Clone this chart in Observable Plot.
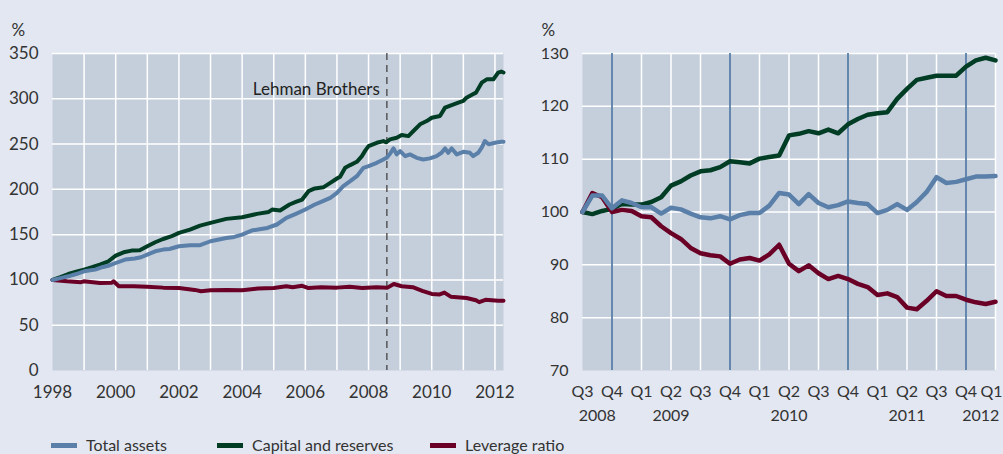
<!DOCTYPE html>
<html>
<head>
<meta charset="utf-8">
<script src="https://cdn.jsdelivr.net/npm/d3@7"></script>
<script src="https://cdn.jsdelivr.net/npm/@observablehq/plot@0.6"></script>
<style>
  html, body { margin: 0; padding: 0; background: #e2e7f1; }
  #wrap { position: relative; width: 1003px; height: 454px; overflow: hidden; font-family: Lato, "Open Sans", sans-serif; color: #333; }
  #left { position: absolute; left: 0; top: 0; }
  #right { position: absolute; left: 503px; top: 0; }
  .leg { position: absolute; top: 435px; display: flex; align-items: center; font-size: 16px; line-height: 20px; color: #333; }
  .sw { width: 26px; height: 5px; margin-right: 9px; }
</style>
</head>
<body>
<div id="wrap">
  <div id="left"></div>
  <div id="right"></div>
  <div id="legend"></div>
</div>
<script>
// ---------- Data ----------
const seriesNames = ["Total assets", "Capital and reserves", "Leverage ratio"];
const seriesColors = ["#5a7fa8", "#003d24", "#6a0026"];

// Left panel (index, 1998 = 100): [year, value]
const totalAssetsLong = [
  [1998.0,100],[1998.25,102],[1998.5,104],[1998.75,106.5],[1999.0,109.5],[1999.35,111.4],[1999.6,114.3],[1999.8,116],
  [2000.0,118.7],[2000.3,122.5],[2000.6,123.6],[2000.8,125],[2001.0,128],[2001.25,131.6],[2001.5,133.5],[2001.7,134.2],
  [2002.0,137.2],[2002.35,138.3],[2002.67,138.3],[2003.0,142.7],[2003.5,146.3],[2003.75,147.5],[2004.0,150.1],[2004.3,154.5],
  [2004.55,156],[2004.8,157.4],[2005.1,161.2],[2005.4,168.5],[2005.7,172.9],[2006.0,177.7],[2006.3,183.3],[2006.5,186.2],
  [2006.79,190.6],[2007.0,196],[2007.2,203.5],[2007.42,209],[2007.63,214.6],[2007.84,223.8],[2008.0,225.7],[2008.26,229.3],
  [2008.47,233],[2008.57,234.8],[2008.68,239.3],[2008.79,245.2],[2008.89,238.6],[2009.0,242.3],[2009.16,236.7],[2009.31,238.6],
  [2009.52,234.8],[2009.73,233],[2009.94,234.2],[2010.15,236.7],[2010.31,240.4],[2010.42,245.2],[2010.52,240.4],[2010.63,245.2],
  [2010.79,238.6],[2011.0,241.5],[2011.21,240.4],[2011.31,236.7],[2011.47,240.4],[2011.58,246],[2011.68,253.3],[2011.8,249.7],
  [2012.0,251.4],[2012.2,252.5],[2012.27,252.5]
];
const capitalLong = [
  [1998.0,100],[1998.25,103],[1998.5,106.5],[1998.75,109],[1999.0,111.4],[1999.25,114],[1999.5,116.9],[1999.77,120.6],
  [2000.0,126.8],[2000.25,130.5],[2000.5,132.4],[2000.76,132.7],[2001.0,137.2],[2001.25,141.6],[2001.5,145.2],[2001.75,148],
  [2002.0,151.9],[2002.35,155.6],[2002.67,160],[2003.0,163],[2003.5,167.4],[2004.0,169.2],[2004.47,172.9],[2004.84,175.1],
  [2004.95,177.7],[2005.2,176.7],[2005.5,183.3],[2005.7,186.2],[2005.9,188.8],[2006.1,198],[2006.3,201],[2006.58,202.4],
  [2006.79,207.2],[2007.0,212],[2007.1,214],[2007.26,223.8],[2007.42,226.8],[2007.63,230.4],[2007.79,236.7],[2007.9,243],
  [2008.0,247.8],[2008.26,251.4],[2008.47,253.3],[2008.55,252],[2008.68,255.2],[2008.89,257],[2009.05,260],[2009.26,258.8],
  [2009.42,264.4],[2009.63,271.8],[2009.84,275.4],[2010.0,279.1],[2010.26,281],[2010.42,290.2],[2010.63,293.1],[2010.84,295.7],
  [2011.0,297.6],[2011.1,301.2],[2011.3,305],[2011.4,306.8],[2011.58,317.8],[2011.74,321.5],[2011.95,321.5],[2012.1,328.9],
  [2012.2,330],[2012.27,329]
];
const leverageLong = [
  [1998.0,100],[1998.46,98.5],[1998.9,97.5],[1998.99,98.5],[1999.5,96.5],[1999.88,97],[1999.93,98.5],[2000.1,93],
  [2000.57,93],[2000.99,92.5],[2001.5,91.5],[2002.0,91],[2002.5,89],[2002.7,87.5],[2003.0,88.5],[2003.5,89],
  [2004.0,88.5],[2004.5,90.5],[2005.0,91],[2005.4,93],[2005.6,92],[2005.9,93.5],[2006.1,91],[2006.5,92],
  [2007.0,91.5],[2007.4,92.5],[2007.8,91],[2008.25,92],[2008.6,91.5],[2008.8,95.5],[2009.05,93],[2009.4,92],
  [2009.7,88],[2010.0,84.5],[2010.25,84],[2010.4,86],[2010.6,81.5],[2011.1,80],[2011.4,77.5],[2011.5,75.5],
  [2011.7,78],[2012.1,77],[2012.27,77]
];
const lehmanDate = 2008.58;
const lehmanLabel = "Lehman Brothers";
const leftYearTicks = [1998, 2000, 2002, 2004, 2006, 2008, 2010, 2012];

// Right panel (index, 2008 Q3 = 100), monthly from 2008 Q3 to 2012 Q1
const totalAssetsShort = [100, 103.1, 103.1, 100.7, 102.2, 101.7, 100.9, 100.9, 99.7, 100.8, 100.5, 99.7, 99.0, 98.8, 99.2, 98.6, 99.4, 99.8, 99.8, 101.2, 103.6, 103.3, 101.5, 103.4, 101.7, 100.9, 101.3, 102.0, 101.7, 101.5, 99.8, 100.4, 101.5, 100.4, 101.9, 103.8, 106.6, 105.5, 105.7, 106.2, 106.7, 106.7, 106.8];
const capitalShort = [100, 99.6, 100.2, 100.6, 101.5, 101.4, 101.4, 101.9, 102.8, 105.0, 105.8, 106.9, 107.7, 107.9, 108.5, 109.6, 109.4, 109.2, 110.1, 110.4, 110.7, 114.5, 114.8, 115.3, 114.9, 115.6, 114.9, 116.6, 117.6, 118.4, 118.7, 118.9, 121.4, 123.3, 125.0, 125.4, 125.8, 125.8, 125.8, 127.5, 128.7, 129.2, 128.7];
const leverageShort = [100, 103.6, 102.8, 100.0, 100.4, 100.2, 99.2, 99.0, 97.3, 96.0, 94.9, 93.2, 92.2, 91.8, 91.6, 90.2, 91.0, 91.3, 90.8, 92.0, 93.8, 90.2, 88.8, 89.9, 88.4, 87.3, 87.9, 87.3, 86.4, 85.8, 84.3, 84.6, 83.9, 81.9, 81.6, 83.2, 85.0, 84.1, 84.1, 83.4, 82.9, 82.6, 83.0];
const quarterLabels = ["Q3","Q4","Q1","Q2","Q3","Q4","Q1","Q2","Q3","Q4","Q1","Q2","Q3","Q4","Q1"];
const yearLabels = ["2008","2009","2010","2011","2012"];

// ---------- Build ----------
const FONT = "Lato, 'Open Sans', sans-serif";
const plotBg = "#c5cfdc";
const textColor = "#333";

const longData = [
  ...capitalLong.map(([x, y]) => ({x, y, s: seriesNames[1]})),
  ...leverageLong.map(([x, y]) => ({x, y, s: seriesNames[2]})),
  ...totalAssetsLong.map(([x, y]) => ({x, y, s: seriesNames[0]}))
];
const colorScale = {domain: seriesNames, range: seriesColors};

const left = Plot.plot({
  width: 503, height: 425,
  marginLeft: 52, marginRight: 0, marginTop: 53, marginBottom: 55,
  style: {fontFamily: FONT, fontSize: "17px", color: textColor, background: "transparent", overflow: "visible"},
  x: {domain: [1998, 2012.27], ticks: leftYearTicks, tickFormat: d => String(d), tickSize: 0, tickPadding: 15, label: null},
  y: {domain: [0, 350], ticks: d3.range(0, 351, 50), tickSize: 0, tickPadding: 14, label: null},
  color: colorScale,
  marks: [
    Plot.frame({fill: plotBg, stroke: null}),
    Plot.ruleX(d3.range(1999, 2013), {stroke: "white", strokeWidth: 1.5}),
    Plot.ruleY(d3.range(50, 351, 50), {stroke: "white", strokeWidth: 1.5}),
    Plot.ruleX([lehmanDate], {stroke: "#444", strokeWidth: 1.3, strokeDasharray: "7,5"}),
    Plot.text([lehmanLabel], {x: lehmanDate, y: 310, text: d => d, textAnchor: "end", dx: -7, fontSize: 17, fill: "#222"}),
    Plot.line(longData, {x: "x", y: "y", z: "s", stroke: "s", strokeWidth: 4, strokeLinejoin: "round"}),
    Plot.text(["%"], {frameAnchor: "top-left", text: d => d, textAnchor: "start", dx: -41, dy: -30, fontSize: 17, fill: textColor})
  ]
});
document.getElementById("left").appendChild(left);

const idx = d3.range(capitalShort.length);
const shortData = [
  ...idx.map(i => ({x: i, y: capitalShort[i], s: seriesNames[1]})),
  ...idx.map(i => ({x: i, y: leverageShort[i], s: seriesNames[2]})),
  ...idx.map(i => ({x: i, y: totalAssetsShort[i], s: seriesNames[0]}))
];
const qTicks = d3.range(0, 43, 3);
const q4Ticks = qTicks.filter((d, i) => quarterLabels[i] === "Q4");
const otherTicks = qTicks.filter((d, i) => quarterLabels[i] !== "Q4" && d > 0);
const yearPos = [1.5, 9, 21, 33, 40.5];
const lastTick = qTicks[qTicks.length - 1];

const right = Plot.plot({
  width: 500, height: 425,
  marginLeft: 79, marginRight: 8, marginTop: 53, marginBottom: 55,
  style: {fontFamily: FONT, fontSize: "16px", color: textColor, background: "transparent", overflow: "visible"},
  x: {domain: [0, 42], axis: null},
  y: {domain: [70, 130], ticks: d3.range(70, 131, 10), tickSize: 0, tickPadding: 14, label: null},
  color: colorScale,
  marks: [
    Plot.frame({fill: plotBg, stroke: null}),
    Plot.ruleX(otherTicks, {stroke: "white", strokeWidth: 1.5}),
    Plot.ruleY(d3.range(80, 131, 10), {stroke: "white", strokeWidth: 1.5}),
    Plot.ruleX(q4Ticks, {stroke: "#5a7fa8", strokeWidth: 1.8}),
    Plot.line(shortData, {x: "x", y: "y", z: "s", stroke: "s", strokeWidth: 4.5, strokeLinejoin: "round"}),
    Plot.text(qTicks.filter(d => d !== lastTick), {x: d => d, frameAnchor: "bottom", lineAnchor: "middle", dy: 21,
      text: d => quarterLabels[Math.round(d / 3)], fontSize: 16, fill: textColor}),
    Plot.text([lastTick], {x: d => d, frameAnchor: "bottom", lineAnchor: "middle", dy: 21, dx: -4,
      text: d => quarterLabels[Math.round(d / 3)], fontSize: 16, fill: textColor}),
    Plot.text(yearLabels, {x: (d, i) => yearPos[i], frameAnchor: "bottom", lineAnchor: "middle", dy: 45, text: d => d, fontSize: 16, fill: textColor}),
    Plot.text(["%"], {frameAnchor: "top-left", text: d => d, textAnchor: "start", dx: -41, dy: -30, fontSize: 17, fill: textColor})
  ]
});
document.getElementById("right").appendChild(right);

// Legend
const legendLefts = [51, 217, 430];
const legend = document.getElementById("legend");
seriesNames.forEach((name, i) => {
  const item = document.createElement("div");
  item.className = "leg";
  item.style.left = legendLefts[i] + "px";
  const sw = document.createElement("div");
  sw.className = "sw";
  sw.style.background = seriesColors[i];
  const t = document.createElement("span");
  t.textContent = name;
  item.appendChild(sw);
  item.appendChild(t);
  legend.appendChild(item);
});
</script>
</body>
</html>
